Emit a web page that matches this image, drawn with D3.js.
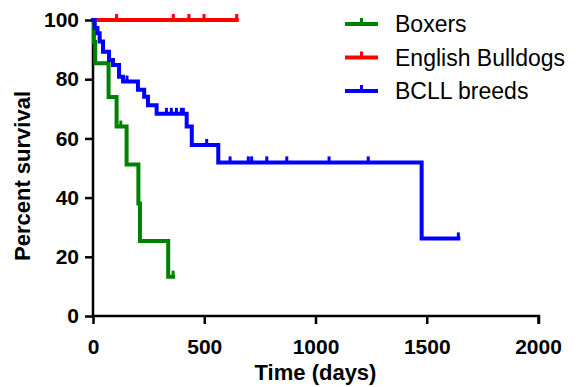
<!DOCTYPE html>
<html>
<head>
<meta charset="utf-8">
<script src="https://cdn.jsdelivr.net/npm/d3@7"></script>
<style>
  html, body { margin: 0; padding: 0; background: #fff; }
  svg { display: block; font-family: "Liberation Sans", Arial, sans-serif; }
</style>
</head>
<body>
<svg id="chart" width="576" height="387"></svg>
<script>
// Kaplan-Meier steps: [day, percent] where percent holds from that day on
const boxersSteps = [[0, 100], [4, 92.6], [10, 85.4], [70, 74], [106, 64], [151, 51.2], [204, 38], [211, 25.3], [338, 13.3]];
const boxersEnd = 360;
const boxersCensored = [125, 360];

const bulldogSteps = [[0, 100]];
const bulldogEnd = 646;
const bulldogCensored = [106, 361, 431, 499, 646];

const bcllSteps = [[0, 100], [8, 97.3], [20, 95.5], [30, 92.7], [45, 89.3], [72, 86.5], [90, 84.8],
  [117, 80.8], [135, 79.2], [202, 76.4], [230, 74.1], [247, 71.2], [286, 68.3], [421, 64], [444, 57.8],
  [563, 51.9], [1477, 26.2]];
const bcllEnd = 1642;
const bcllCensored = [153, 330, 352, 375, 397, 406, 511, 616, 698, 713, 781, 871, 1061, 1237, 1642];

const seriesNames = ["Boxers", "English Bulldogs", "BCLL breeds"];
const seriesColors = ["#008000", "#ff0000", "#0000ff"];
const xTicks = [0, 500, 1000, 1500, 2000];
const yTicks = [0, 20, 40, 60, 80, 100];

const svg = d3.select("#chart");
const margin = { left: 93, right: 38, top: 20, bottom: 71 };
const width = 576, height = 387;

const x = d3.scaleLinear().domain([0, 2000]).range([margin.left, width - margin.right]);
const y = d3.scaleLinear().domain([0, 100]).range([height - margin.bottom, margin.top]);

function survivalAt(steps, day) {
  let value = steps[0][1];
  steps.forEach(([d, v]) => { if (d <= day) value = v; });
  return value;
}

const series = [
  { steps: boxersSteps, end: boxersEnd, censored: boxersCensored },
  { steps: bulldogSteps, end: bulldogEnd, censored: bulldogCensored },
  { steps: bcllSteps, end: bcllEnd, censored: bcllCensored }
];

const line = d3.line().x((d) => x(d[0])).y((d) => y(d[1])).curve(d3.curveStepAfter);

// axes
const xAxis = svg.append("g").attr("transform", `translate(0,${y(0)})`)
  .call(d3.axisBottom(x).tickValues(xTicks).tickFormat(d3.format("d")).tickSize(8).tickPadding(15).tickSizeOuter(0));
const yAxis = svg.append("g").attr("transform", `translate(${x(0)},0)`)
  .call(d3.axisLeft(y).tickValues(yTicks).tickFormat(d3.format("d")).tickSize(8).tickPadding(6).tickSizeOuter(0));

[xAxis, yAxis].forEach((g) => {
  g.select(".domain").attr("stroke", "#000").attr("stroke-width", 2.5);
  g.selectAll(".tick line").attr("stroke", "#000").attr("stroke-width", 2.5);
  g.selectAll(".tick text").attr("fill", "#000").attr("font-size", 21).attr("font-weight", "bold")
    .attr("font-family", "Liberation Sans, Arial, sans-serif");
});
xAxis.select(".domain").attr("d", `M${x(0) - 1},0H${x(2000) + 1}V8`);
yAxis.select(".domain").attr("d", `M0,${y(0) + 1}V${y(100) - 1}`);

// curves (drawn so blue sits on top like the original)
const drawOrder = [1, 0, 2];
drawOrder.forEach((i) => {
  const s = series[i];
  const pts = s.steps.slice();
  pts.push([s.end, survivalAt(s.steps, s.end)]);
  svg.append("path").datum(pts)
    .attr("fill", "none").attr("stroke", seriesColors[i]).attr("stroke-width", 4)
    .attr("stroke-linejoin", "miter").attr("stroke-linecap", "square")
    .attr("d", line);
  svg.append("g").selectAll("line").data(s.censored).join("line")
    .attr("x1", (d) => x(d)).attr("x2", (d) => x(d))
    .attr("y1", (d) => y(survivalAt(s.steps, d)))
    .attr("y2", (d) => y(survivalAt(s.steps, d)) - 6)
    .attr("stroke", seriesColors[i]).attr("stroke-width", 3);
});

// legend
const legend = svg.append("g");
seriesNames.forEach((name, i) => {
  const ly = 24 + i * 33.5;
  legend.append("line").attr("x1", 345).attr("x2", 378).attr("y1", ly).attr("y2", ly)
    .attr("stroke", seriesColors[i]).attr("stroke-width", 4);
  legend.append("line").attr("x1", 361.5).attr("x2", 361.5).attr("y1", ly).attr("y2", ly - 6)
    .attr("stroke", seriesColors[i]).attr("stroke-width", 3);
  legend.append("text").attr("x", 395).attr("y", ly + 8).attr("font-size", 23).attr("fill", "#000").text(name);
});

// axis titles
svg.append("text").attr("x", (x(0) + x(2000)) / 2).attr("y", 380).attr("text-anchor", "middle")
  .attr("font-size", 22).attr("font-weight", "bold").text("Time (days)");
svg.append("text").attr("transform", `translate(30,${(y(0) + y(100)) / 2 + 8}) rotate(-90)`)
  .attr("text-anchor", "middle").attr("font-size", 22).attr("font-weight", "bold").text("Percent survival");
</script>
</body>
</html>
